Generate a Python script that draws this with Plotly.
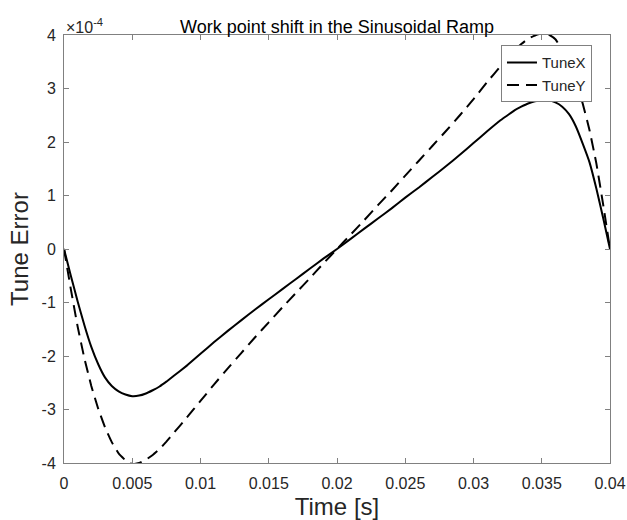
import plotly.graph_objects as go

# Time axis [s]
time_s = [0, 0.0005, 0.001, 0.0015, 0.002, 0.0025, 0.003, 0.0035, 0.004, 0.0045,
          0.005, 0.0055, 0.006, 0.0065, 0.007, 0.0075, 0.008, 0.009, 0.010, 0.011,
          0.012, 0.013, 0.014, 0.015, 0.016, 0.017, 0.018, 0.019, 0.020, 0.021,
          0.022, 0.023, 0.024, 0.025, 0.026, 0.027, 0.028, 0.029, 0.030, 0.031,
          0.032, 0.0325, 0.033, 0.0335, 0.034, 0.0345, 0.035, 0.0355, 0.036,
          0.0365, 0.037, 0.0375, 0.038, 0.0385, 0.039, 0.0395, 0.040]

# Tune error in units of 1e-4
tune_x = [0, -0.50, -0.98, -1.43, -1.83, -2.15, -2.40, -2.56, -2.66, -2.72,
          -2.75, -2.74, -2.70, -2.64, -2.57, -2.48, -2.38, -2.18, -1.96, -1.74,
          -1.53, -1.33, -1.13, -0.94, -0.75, -0.56, -0.37, -0.18, 0.0, 0.19,
          0.38, 0.57, 0.76, 0.96, 1.15, 1.35, 1.55, 1.76, 1.98, 2.20,
          2.41, 2.50, 2.59, 2.66, 2.72, 2.76, 2.78, 2.78, 2.74,
          2.66, 2.52, 2.29, 1.97, 1.62, 1.13, 0.58, 0]

tune_y = [0, -0.75, -1.45, -2.05, -2.56, -2.98, -3.33, -3.61, -3.82, -3.95,
          -4.02, -4.00, -3.94, -3.85, -3.74, -3.60, -3.45, -3.15, -2.84, -2.53,
          -2.23, -1.94, -1.65, -1.37, -1.09, -0.82, -0.55, -0.27, 0.0, 0.27,
          0.54, 0.82, 1.09, 1.37, 1.65, 1.93, 2.21, 2.50, 2.80, 3.12,
          3.42, 3.56, 3.71, 3.83, 3.93, 3.99, 4.03, 4.01, 3.92,
          3.72, 3.45, 3.12, 2.72, 2.22, 1.60, 0.83, 0]

x_tickvals = [0, 0.005, 0.01, 0.015, 0.02, 0.025, 0.03, 0.035, 0.04]
x_ticktext = ["0", "0.005", "0.01", "0.015", "0.02", "0.025", "0.03", "0.035", "0.04"]
y_tickvals = [-4, -3, -2, -1, 0, 1, 2, 3, 4]
y_ticktext = ["-4", "-3", "-2", "-1", "0", "1", "2", "3", "4"]

FONT = "Liberation Sans, Arial, Helvetica, sans-serif"
AXIS_COLOR = "#808080"
TEXT_COLOR = "#262626"

fig = go.Figure()
fig.add_trace(go.Scatter(x=time_s, y=tune_x, mode="lines", name="TuneX",
                         line=dict(color="black", width=2, shape="spline", smoothing=0.3)))
fig.add_trace(go.Scatter(x=time_s, y=tune_y, mode="lines", name="TuneY",
                         line=dict(color="black", width=2, dash="12px,7px",
                                   shape="spline", smoothing=0.3)))

axis_common = dict(showgrid=False, zeroline=False, showline=True, linecolor=AXIS_COLOR,
                   linewidth=1, mirror="ticks", ticks="inside", ticklen=5,
                   tickcolor=AXIS_COLOR, tickwidth=1, automargin=False,
                   tickfont=dict(family=FONT, size=16, color=TEXT_COLOR))

fig.update_xaxes(range=[0, 0.04], tickvals=x_tickvals, ticktext=x_ticktext,
                 title=dict(text="Time [s]", font=dict(family=FONT, size=24, color=TEXT_COLOR),
                            standoff=6),
                 ticklabelstandoff=6, **axis_common)
fig.update_yaxes(range=[-4, 4], tickvals=y_tickvals, ticktext=y_ticktext,
                 title=dict(text="Tune Error", font=dict(family=FONT, size=24, color=TEXT_COLOR),
                            standoff=6),
                 ticklabelstandoff=4, **axis_common)

fig.update_layout(
    width=627, height=520,
    margin=dict(l=64, r=17, t=35, b=57),
    paper_bgcolor="white", plot_bgcolor="white",
    font=dict(family=FONT, color=TEXT_COLOR),
    title=dict(text="Work point shift in the Sinusoidal Ramp", x=0.5, xanchor="center",
               xref="paper", y=1, yref="paper", yanchor="bottom", pad=dict(b=2),
               font=dict(family=FONT, size=18, color="black")),
    legend=dict(x=0.967, y=0.976, xanchor="right", yanchor="top",
                bordercolor=AXIS_COLOR, borderwidth=1, bgcolor="white",
                font=dict(family=FONT, size=15, color=TEXT_COLOR),
                tracegroupgap=0, itemwidth=30),
    showlegend=True,
)

fig.add_annotation(text="×10<sup>-4</sup>", xref="paper", yref="paper", x=0, y=1,
                   xanchor="left", yanchor="bottom", yshift=-3, showarrow=False,
                   font=dict(family=FONT, size=16, color=TEXT_COLOR))

fig.write_html("out.html")
